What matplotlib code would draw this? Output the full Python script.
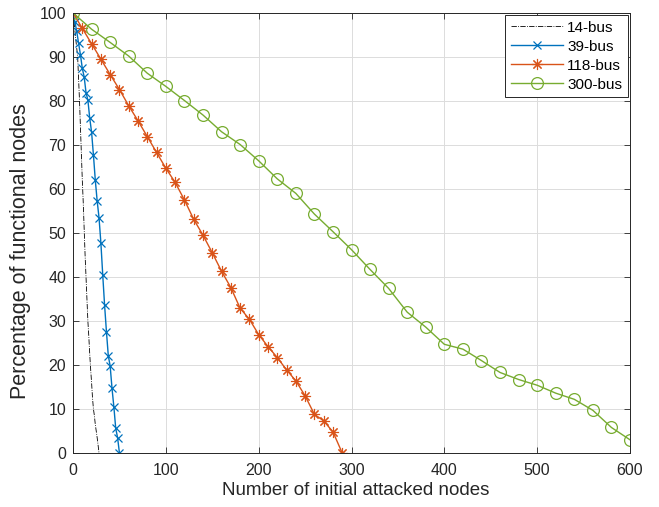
import matplotlib
matplotlib.use('Agg')
import matplotlib.pyplot as plt
import numpy as np

plt.rcParams['font.family'] = ['Liberation Sans', 'DejaVu Sans']

# 14-bus (line only)
x14 = list(range(0, 29))
y14 = [100, 98, 96, 94, 92, 90, 85, 80, 74, 68, 62, 57, 51, 45, 40, 35, 30,
       26.5, 22.5, 19, 16, 12.5, 10, 8.5, 6.5, 5, 3.5, 1.8, 0]

# 39-bus
x39 = list(range(0, 51, 2))
y39 = [100, 98, 95.8, 93.1, 90.5, 87.4, 85.5, 81.9, 80.2, 76.1, 72.9, 67.7, 62.0,
       57.3, 53.5, 47.8, 40.5, 33.6, 27.6, 22.1, 19.8, 14.7, 10.5, 5.6, 3.5, 0]

# 118-bus
x118 = list(range(0, 291, 10))
y118 = [100, 96.5, 93, 89.5, 86, 82.6, 78.9, 75.5, 71.9, 68.3, 64.7, 61.5, 57.5,
        53.1, 49.5, 45.5, 41.3, 37.6, 32.9, 30.4, 26.9, 24.2, 21.7, 18.9, 16.4,
        13.0, 8.8, 7.3, 4.8, 0]

# 300-bus
x300 = list(range(0, 601, 20))
y300 = [100, 96.3, 93.3, 90.2, 86.3, 83.3, 80.1, 76.8, 73.0, 70.1, 66.4, 62.3,
        59.0, 54.3, 50.3, 46.2, 41.7, 37.4, 32.0, 28.6, 24.7, 23.6, 21.0, 18.3,
        16.7, 15.4, 13.6, 12.2, 9.7, 5.8, 3.0]

labels = ['14-bus', '39-bus', '118-bus', '300-bus']

fig = plt.figure(figsize=(6.59, 5.07), dpi=100)
ax = fig.add_axes([0.1108, 0.1065, 0.8452, 0.868])

# MATLAB-style '*' marker (4 crossing strokes)
asterisk = (8, 2, 0)
ax.plot(x14, y14, color='black', linestyle='-.', linewidth=0.6, label=labels[0])
ax.plot(x39, y39, color='#0072BD', marker='x', markersize=6, linewidth=1.0,
        markeredgewidth=0.9, label=labels[1])
ax.plot(x118, y118, color='#D95319', marker=asterisk, markersize=8, linewidth=1.0,
        markeredgewidth=0.8, label=labels[2])
ax.plot(x300, y300, color='#77AC30', marker='o', markersize=8.5, linewidth=1.0,
        markerfacecolor='none', markeredgewidth=0.9, label=labels[3])

ax.set_xlim(0, 600)
ax.set_ylim(0, 100)
ax.set_xticks(np.arange(0, 601, 100))
ax.set_yticks(np.arange(0, 101, 10))
ax.grid(True, color='#dcdcdc', linewidth=0.7)
ax.set_axisbelow(True)
ax.tick_params(direction='in', top=True, right=True, labelsize=11.5,
               colors='#262626', length=4, width=0.6)
ax.tick_params(axis='x', pad=7)
ax.tick_params(axis='y', pad=5)
for s in ax.spines.values():
    s.set_color('#262626')
    s.set_linewidth(0.7)

ax.set_xlabel('Number of initial attacked nodes', fontsize=13.5, color='#262626')
ax.set_ylabel('Percentage of functional nodes', fontsize=15.5, color='#262626')
ax.xaxis.set_label_coords(0.508, -0.066)
ax.yaxis.set_label_coords(-0.075, 0.459)

leg = ax.legend(loc='upper right', fontsize=11, frameon=True, fancybox=False,
                edgecolor='#262626', framealpha=1, handlelength=3.4,
                labelspacing=0.33, borderaxespad=0.15, borderpad=0.35,
                handletextpad=0.3)
leg.get_frame().set_linewidth(0.7)

fig.savefig('out.png', dpi=100)
